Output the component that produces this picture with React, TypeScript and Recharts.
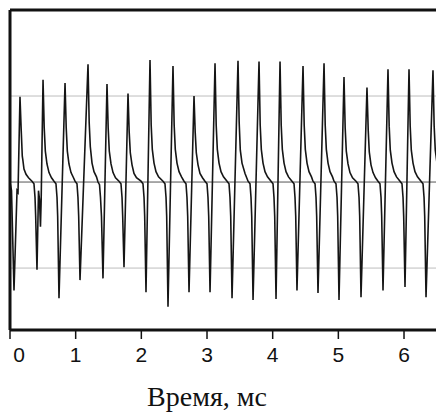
import { LineChart, Line, XAxis, YAxis, ReferenceLine, Label } from 'recharts';

// time in microseconds, signal in arbitrary units (grid lines at -1, 0, 1)
const TRACE: [number, number][] = [
  [0, 0.0], [23, -0.1], [61, -1.26], [107, -0.1], [122, -0.12], [152, 0.99],
  [171, 0.6], [187, 0.3], [195, 0.26], [213, 0.15], [244, 0.09], [282, 0.05], [335, 0.01], [365, -0.02], [381, -0.18], [391, -0.4], [411, -1.02],
  [434, -0.1], [449, -0.2], [464, -0.52], [475, -0.2], [503, 1.19],
  [521, 0.63], [538, 0.36], [563, 0.21], [594, 0.11], [632, 0.05], [670, 0.01], [700, -0.02], [716, -0.18], [726, -0.4], [746, -1.35],
  [838, 1.15],
  [856, 0.63], [873, 0.36], [898, 0.21], [929, 0.11], [967, 0.05], [990, 0.01], [1020, -0.02], [1035, -0.18], [1046, -0.4], [1066, -1.14],
  [1188, 1.37],
  [1206, 0.69], [1223, 0.41], [1249, 0.22], [1279, 0.12], [1317, 0.06], [1340, 0.0], [1363, -0.03], [1378, -0.18], [1393, -0.4], [1416, -1.12],
  [1477, 1.14],
  [1495, 0.63], [1512, 0.36], [1538, 0.21], [1569, 0.11], [1607, 0.05], [1660, 0.01], [1690, -0.02], [1706, -0.18], [1716, -0.4], [1736, -0.99],
  [1797, 1.03],
  [1815, 0.58], [1832, 0.34], [1858, 0.2], [1888, 0.1], [1926, 0.05], [1995, 0.01], [2025, -0.02], [2041, -0.18], [2051, -0.4], [2071, -1.28],
  [2132, 1.42],
  [2150, 0.66], [2167, 0.38], [2193, 0.22], [2223, 0.12], [2262, 0.06], [2330, 0.01], [2360, -0.02], [2376, -0.18], [2386, -0.4], [2406, -1.45],
  [2482, 1.35],
  [2500, 0.66], [2517, 0.38], [2543, 0.22], [2574, 0.12], [2612, 0.06], [2650, 0.01], [2680, -0.02], [2695, -0.18], [2706, -0.4], [2726, -1.28],
  [2802, 1.0],
  [2820, 0.58], [2837, 0.34], [2863, 0.2], [2893, 0.1], [2931, 0.05], [2969, 0.01], [3000, -0.02], [3015, -0.18], [3026, -0.4], [3046, -1.28],
  [3122, 1.38],
  [3140, 0.66], [3157, 0.38], [3183, 0.22], [3213, 0.12], [3251, 0.06], [3305, 0.01], [3335, -0.02], [3350, -0.18], [3361, -0.4], [3381, -1.35],
  [3472, 1.41],
  [3490, 0.69], [3507, 0.37], [3533, 0.22], [3579, 0.1], [3625, 0.01], [3655, -0.02], [3670, -0.18], [3681, -0.4], [3701, -1.37],
  [3792, 1.4],
  [3810, 0.66], [3827, 0.38], [3853, 0.22], [3883, 0.12], [3921, 0.06], [3975, 0.01], [4005, -0.02], [4020, -0.18], [4031, -0.4], [4051, -1.36],
  [4112, 1.4],
  [4130, 0.66], [4147, 0.38], [4173, 0.22], [4203, 0.12], [4241, 0.06], [4294, 0.01], [4325, -0.02], [4340, -0.18], [4351, -0.4], [4370, -1.26],
  [4462, 1.35],
  [4480, 0.66], [4497, 0.38], [4523, 0.22], [4553, 0.12], [4591, 0.06], [4614, 0.01], [4645, -0.02], [4660, -0.18], [4670, -0.4], [4690, -1.29],
  [4782, 1.38],
  [4800, 0.66], [4817, 0.38], [4843, 0.22], [4873, 0.12], [4911, 0.06], [4934, 0.01], [4964, -0.02], [4980, -0.18], [4990, -0.4], [5010, -1.37],
  [5086, 1.22],
  [5104, 0.63], [5121, 0.36], [5147, 0.21], [5177, 0.11], [5216, 0.05], [5269, 0.01], [5299, -0.02], [5315, -0.18], [5325, -0.4], [5345, -1.34],
  [5436, 1.1],
  [5455, 0.6], [5471, 0.35], [5497, 0.2], [5528, 0.11], [5566, 0.05], [5604, 0.01], [5634, -0.02], [5650, -0.18], [5660, -0.4], [5680, -1.26],
  [5756, 1.31],
  [5774, 0.65], [5791, 0.37], [5817, 0.22], [5848, 0.12], [5886, 0.06], [5939, 0.01], [5969, -0.02], [5985, -0.18], [5995, -0.4], [6015, -1.22],
  [6076, 1.31],
  [6094, 0.65], [6111, 0.37], [6137, 0.22], [6167, 0.12], [6205, 0.06], [6259, 0.01], [6289, -0.02], [6305, -0.18], [6315, -0.4], [6335, -1.34],
  [6441, 1.3],
  [6459, 0.65], [6476, 0.37], [6502, 0.22], [6533, 0.12],
];

const X_TICKS = [0, 1000, 2000, 3000, 4000, 5000, 6000];
const X_DOMAIN = [0, 6487];
const Y_DOMAIN = [-1.72, 2];
const GRID_LEVELS = [-1, 1];

const data = TRACE.map(([t, v]) => ({ t, v }));

function TimeTick(props: any) {
  const { x, y, payload, index } = props;
  // the first label sits a bit to the right of the frame
  const shift = index === 0 ? 9 : 0;
  return (
    <text
      x={x + shift}
      y={y + 21}
      textAnchor="middle"
      fontFamily="'Liberation Sans', Arial, sans-serif"
      fontSize={21}
      fill="#111"
    >
      {payload.value / 1000}
    </text>
  );
}

export default function App() {
  return (
    <div style={{ position: 'absolute', left: 0, top: 0, background: '#fff' }}>
      <LineChart width={436} height={415} data={data} margin={{ top: 10, right: 0, bottom: 0, left: 10 }}>
        <XAxis
          dataKey="t"
          type="number"
          domain={X_DOMAIN}
          allowDataOverflow
          ticks={X_TICKS}
          height={85}
          tickSize={9}
          tickMargin={2}
          tick={<TimeTick />}
          axisLine={{ stroke: '#111', strokeWidth: 3 }}
          tickLine={{ stroke: '#111', strokeWidth: 1.5 }}
        >
          <Label
            value="Время, мс"
            position="insideBottom"
            offset={9}
            dx={-16}
            style={{ fontFamily: "'Liberation Serif', 'Times New Roman', serif", fontSize: 28, fill: '#111' }}
          />
        </XAxis>
        <YAxis type="number" domain={Y_DOMAIN} allowDataOverflow hide />
        {GRID_LEVELS.map((g) => (
          <ReferenceLine key={g} y={g} stroke="#bdbdbd" strokeWidth={1} />
        ))}
        <ReferenceLine y={0} stroke="#555" strokeWidth={1} />
        <Line
          type="linear"
          dataKey="v"
          stroke="#151515"
          strokeWidth={1.6}
          dot={false}
          activeDot={false}
          isAnimationActive={false}
        />
        {/* frame: left and top edges */}
        <ReferenceLine x={X_DOMAIN[0]} stroke="#111" strokeWidth={3} />
        <ReferenceLine y={Y_DOMAIN[1]} stroke="#111" strokeWidth={3} />
      </LineChart>
    </div>
  );
}
